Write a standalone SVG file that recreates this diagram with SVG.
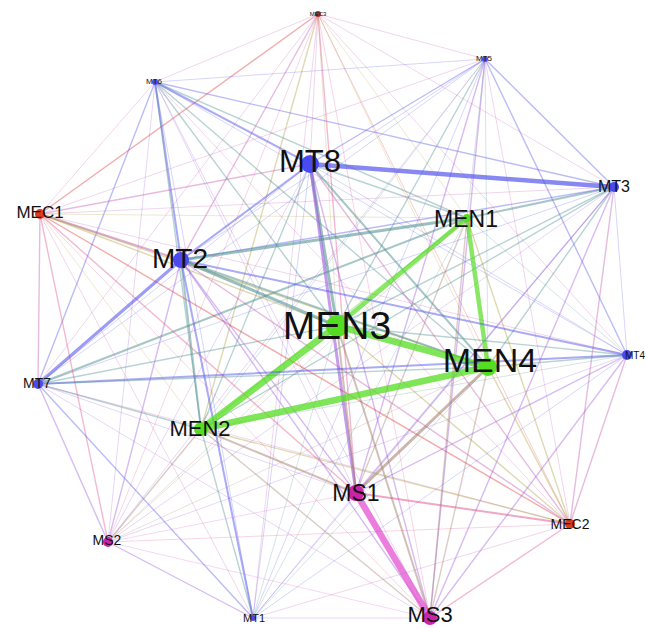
<svg xmlns="http://www.w3.org/2000/svg" width="646" height="629" viewBox="0 0 646 629">
<style>
#edges line{stroke-width:1;stroke-opacity:.24;stroke-linecap:round}
.tt{stroke:#5555ee}.nn{stroke:#55dd22}.ss{stroke:#e452d0}.cc{stroke:#e03030}
.tn{stroke:#4f9090}.ts{stroke:#9a55dd}.tc{stroke:#c055b0}.ns{stroke:#a58070}
.nc{stroke:#b0a040}.sc{stroke:#e0508a}
#edges line.a{stroke-width:1.4;stroke-opacity:.4}
#edges line.b{stroke-width:2;stroke-opacity:.5}
#edges line.c{stroke-width:3;stroke-opacity:.58}
#edges line.d{stroke-width:4.5;stroke-opacity:.7}
#edges line.e{stroke-width:6.5;stroke-opacity:.75}
text{font-family:"Liberation Sans",Arial,sans-serif;fill:#111;text-anchor:middle}
.t{fill:#4a4af0}.n{fill:#55dd22}.s{fill:#cc22aa}.r{fill:#e03a1a}
</style>
<rect width="646" height="629" fill="#fff"/>
<g id="edges">
<line class="tc" x1="318" y1="14" x2="155" y2="82"/>
<line class="tc" x1="318" y1="14" x2="485" y2="59"/>
<line class="tc" x1="318" y1="14" x2="310" y2="164"/>
<line class="tc" x1="318" y1="14" x2="614" y2="187"/>
<line class="nc" x1="318" y1="14" x2="467" y2="218"/>
<line class="cc a" x1="318" y1="14" x2="40" y2="214"/>
<line class="tc a" x1="318" y1="14" x2="181" y2="260"/>
<line class="nc" x1="318" y1="14" x2="337" y2="326"/>
<line class="tc" x1="318" y1="14" x2="627" y2="355"/>
<line class="tc" x1="318" y1="14" x2="38" y2="384"/>
<line class="nc" x1="318" y1="14" x2="488" y2="367"/>
<line class="nc a" x1="318" y1="14" x2="201" y2="429"/>
<line class="sc a" x1="318" y1="14" x2="356" y2="493"/>
<line class="cc" x1="318" y1="14" x2="570" y2="524"/>
<line class="sc" x1="318" y1="14" x2="108" y2="542"/>
<line class="tc" x1="318" y1="14" x2="253" y2="618"/>
<line class="sc" x1="318" y1="14" x2="430" y2="618"/>
<line class="tt" x1="155" y1="82" x2="485" y2="59"/>
<line class="tt b" x1="155" y1="82" x2="310" y2="164"/>
<line class="tt a" x1="155" y1="82" x2="614" y2="187"/>
<line class="tn a" x1="155" y1="82" x2="467" y2="218"/>
<line class="tc" x1="155" y1="82" x2="40" y2="214"/>
<line class="tt b" x1="155" y1="82" x2="181" y2="260"/>
<line class="tn a" x1="155" y1="82" x2="337" y2="326"/>
<line class="tt" x1="155" y1="82" x2="627" y2="355"/>
<line class="tt a" x1="155" y1="82" x2="38" y2="384"/>
<line class="tn a" x1="155" y1="82" x2="488" y2="367"/>
<line class="tn a" x1="155" y1="82" x2="201" y2="429"/>
<line class="ts" x1="155" y1="82" x2="356" y2="493"/>
<line class="tc" x1="155" y1="82" x2="570" y2="524"/>
<line class="ts" x1="155" y1="82" x2="108" y2="542"/>
<line class="tt" x1="155" y1="82" x2="253" y2="618"/>
<line class="ts" x1="155" y1="82" x2="430" y2="618"/>
<line class="tt a" x1="485" y1="59" x2="310" y2="164"/>
<line class="tt a" x1="485" y1="59" x2="614" y2="187"/>
<line class="tn" x1="485" y1="59" x2="467" y2="218"/>
<line class="tc" x1="485" y1="59" x2="40" y2="214"/>
<line class="tt" x1="485" y1="59" x2="181" y2="260"/>
<line class="tn a" x1="485" y1="59" x2="337" y2="326"/>
<line class="tt a" x1="485" y1="59" x2="627" y2="355"/>
<line class="tt" x1="485" y1="59" x2="38" y2="384"/>
<line class="tn" x1="485" y1="59" x2="488" y2="367"/>
<line class="tn" x1="485" y1="59" x2="201" y2="429"/>
<line class="ts a" x1="485" y1="59" x2="356" y2="493"/>
<line class="tc" x1="485" y1="59" x2="570" y2="524"/>
<line class="ts" x1="485" y1="59" x2="108" y2="542"/>
<line class="tt" x1="485" y1="59" x2="253" y2="618"/>
<line class="ts a" x1="485" y1="59" x2="430" y2="618"/>
<line class="tt d" x1="310" y1="164" x2="614" y2="187"/>
<line class="tn a" x1="310" y1="164" x2="467" y2="218"/>
<line class="tc a" x1="310" y1="164" x2="40" y2="214"/>
<line class="tt b" x1="310" y1="164" x2="181" y2="260"/>
<line class="tn c" x1="310" y1="164" x2="337" y2="326"/>
<line class="tt" x1="310" y1="164" x2="627" y2="355"/>
<line class="tt" x1="310" y1="164" x2="38" y2="384"/>
<line class="tn b" x1="310" y1="164" x2="488" y2="367"/>
<line class="tn a" x1="310" y1="164" x2="201" y2="429"/>
<line class="ts c" x1="310" y1="164" x2="356" y2="493"/>
<line class="tc a" x1="310" y1="164" x2="570" y2="524"/>
<line class="ts" x1="310" y1="164" x2="108" y2="542"/>
<line class="tt" x1="310" y1="164" x2="253" y2="618"/>
<line class="ts a" x1="310" y1="164" x2="430" y2="618"/>
<line class="tn b" x1="614" y1="187" x2="467" y2="218"/>
<line class="tc" x1="614" y1="187" x2="40" y2="214"/>
<line class="tt a" x1="614" y1="187" x2="181" y2="260"/>
<line class="tn a" x1="614" y1="187" x2="337" y2="326"/>
<line class="tt" x1="614" y1="187" x2="627" y2="355"/>
<line class="tt" x1="614" y1="187" x2="38" y2="384"/>
<line class="tn a" x1="614" y1="187" x2="488" y2="367"/>
<line class="tn a" x1="614" y1="187" x2="201" y2="429"/>
<line class="ts a" x1="614" y1="187" x2="356" y2="493"/>
<line class="tc a" x1="614" y1="187" x2="570" y2="524"/>
<line class="ts" x1="614" y1="187" x2="108" y2="542"/>
<line class="tt" x1="614" y1="187" x2="253" y2="618"/>
<line class="ts a" x1="614" y1="187" x2="430" y2="618"/>
<line class="nc" x1="467" y1="218" x2="40" y2="214"/>
<line class="tn c" x1="467" y1="218" x2="181" y2="260"/>
<line class="nn d" x1="467" y1="218" x2="337" y2="326"/>
<line class="tn" x1="467" y1="218" x2="627" y2="355"/>
<line class="tn b" x1="467" y1="218" x2="38" y2="384"/>
<line class="nn d" x1="467" y1="218" x2="488" y2="367"/>
<line class="nn a" x1="467" y1="218" x2="201" y2="429"/>
<line class="ns a" x1="467" y1="218" x2="356" y2="493"/>
<line class="nc a" x1="467" y1="218" x2="570" y2="524"/>
<line class="ns" x1="467" y1="218" x2="108" y2="542"/>
<line class="tn" x1="467" y1="218" x2="253" y2="618"/>
<line class="ns a" x1="467" y1="218" x2="430" y2="618"/>
<line class="tc b" x1="40" y1="214" x2="181" y2="260"/>
<line class="nc a" x1="40" y1="214" x2="337" y2="326"/>
<line class="tc" x1="40" y1="214" x2="627" y2="355"/>
<line class="tc a" x1="40" y1="214" x2="38" y2="384"/>
<line class="nc a" x1="40" y1="214" x2="488" y2="367"/>
<line class="nc" x1="40" y1="214" x2="201" y2="429"/>
<line class="sc a" x1="40" y1="214" x2="356" y2="493"/>
<line class="cc a" x1="40" y1="214" x2="570" y2="524"/>
<line class="sc a" x1="40" y1="214" x2="108" y2="542"/>
<line class="tc" x1="40" y1="214" x2="253" y2="618"/>
<line class="sc" x1="40" y1="214" x2="430" y2="618"/>
<line class="tn c" x1="181" y1="260" x2="337" y2="326"/>
<line class="tt b" x1="181" y1="260" x2="627" y2="355"/>
<line class="tt c" x1="181" y1="260" x2="38" y2="384"/>
<line class="tn b" x1="181" y1="260" x2="488" y2="367"/>
<line class="tn b" x1="181" y1="260" x2="201" y2="429"/>
<line class="ts a" x1="181" y1="260" x2="356" y2="493"/>
<line class="tc a" x1="181" y1="260" x2="570" y2="524"/>
<line class="ts a" x1="181" y1="260" x2="108" y2="542"/>
<line class="tt b" x1="181" y1="260" x2="253" y2="618"/>
<line class="ts a" x1="181" y1="260" x2="430" y2="618"/>
<line class="tn a" x1="337" y1="326" x2="627" y2="355"/>
<line class="tn a" x1="337" y1="326" x2="38" y2="384"/>
<line class="nn e" x1="337" y1="326" x2="488" y2="367"/>
<line class="nn e" x1="337" y1="326" x2="201" y2="429"/>
<line class="ns b" x1="337" y1="326" x2="356" y2="493"/>
<line class="nc a" x1="337" y1="326" x2="570" y2="524"/>
<line class="ns" x1="337" y1="326" x2="108" y2="542"/>
<line class="tn" x1="337" y1="326" x2="253" y2="618"/>
<line class="ns b" x1="337" y1="326" x2="430" y2="618"/>
<line class="tt b" x1="627" y1="355" x2="38" y2="384"/>
<line class="tn a" x1="627" y1="355" x2="488" y2="367"/>
<line class="tn" x1="627" y1="355" x2="201" y2="429"/>
<line class="ts a" x1="627" y1="355" x2="356" y2="493"/>
<line class="tc a" x1="627" y1="355" x2="570" y2="524"/>
<line class="ts" x1="627" y1="355" x2="108" y2="542"/>
<line class="tt" x1="627" y1="355" x2="253" y2="618"/>
<line class="ts a" x1="627" y1="355" x2="430" y2="618"/>
<line class="tn a" x1="38" y1="384" x2="488" y2="367"/>
<line class="tn a" x1="38" y1="384" x2="201" y2="429"/>
<line class="ts" x1="38" y1="384" x2="356" y2="493"/>
<line class="tc" x1="38" y1="384" x2="570" y2="524"/>
<line class="ts a" x1="38" y1="384" x2="108" y2="542"/>
<line class="tt a" x1="38" y1="384" x2="253" y2="618"/>
<line class="ts" x1="38" y1="384" x2="430" y2="618"/>
<line class="nn e" x1="488" y1="367" x2="201" y2="429"/>
<line class="ns c" x1="488" y1="367" x2="356" y2="493"/>
<line class="nc a" x1="488" y1="367" x2="570" y2="524"/>
<line class="ns" x1="488" y1="367" x2="108" y2="542"/>
<line class="tn" x1="488" y1="367" x2="253" y2="618"/>
<line class="ns a" x1="488" y1="367" x2="430" y2="618"/>
<line class="ns b" x1="201" y1="429" x2="356" y2="493"/>
<line class="nc a" x1="201" y1="429" x2="570" y2="524"/>
<line class="ns a" x1="201" y1="429" x2="108" y2="542"/>
<line class="tn a" x1="201" y1="429" x2="253" y2="618"/>
<line class="ns a" x1="201" y1="429" x2="430" y2="618"/>
<line class="sc b" x1="356" y1="493" x2="570" y2="524"/>
<line class="ss" x1="356" y1="493" x2="108" y2="542"/>
<line class="ts" x1="356" y1="493" x2="253" y2="618"/>
<line class="ss e" x1="356" y1="493" x2="430" y2="618"/>
<line class="sc" x1="570" y1="524" x2="108" y2="542"/>
<line class="tc" x1="570" y1="524" x2="253" y2="618"/>
<line class="sc a" x1="570" y1="524" x2="430" y2="618"/>
<line class="ts a" x1="108" y1="542" x2="253" y2="618"/>
<line class="ss" x1="108" y1="542" x2="430" y2="618"/>
<line class="ts" x1="253" y1="618" x2="430" y2="618"/>
</g>
<g id="node-MEC3"><circle cx="318" cy="14" r="3" fill="#a03830"/><text x="318" y="16" font-size="6">MEC3</text></g>
<g id="node-MT6"><circle class="t" cx="155" cy="82" r="3"/><text x="154" y="84" font-size="8">MT6</text></g>
<g id="node-MT5"><circle class="t" cx="485" cy="59" r="3"/><text x="484" y="61" font-size="8">MT5</text></g>
<g id="node-MT8"><circle class="t" cx="310" cy="164" r="9"/><text x="310" y="172" font-size="31">MT8</text></g>
<g id="node-MT3"><circle class="t" cx="614" cy="187" r="5"/><text x="614" y="192" font-size="16">MT3</text></g>
<g id="node-MEN1"><circle class="n" cx="467" cy="218" r="4"/><text x="466" y="227" font-size="23">MEN1</text></g>
<g id="node-MEC1"><circle class="r" cx="40" cy="214" r="5"/><text x="40" y="218" font-size="17">MEC1</text></g>
<g id="node-MT2"><circle class="t" cx="181" cy="260" r="8"/><text x="180" y="268" font-size="28">MT2</text></g>
<g id="node-MEN3"><circle class="n" cx="337" cy="326" r="11"/><text x="337" y="339" font-size="39">MEN3</text></g>
<g id="node-MT4"><circle class="t" cx="627" cy="355" r="5"/><text x="645" y="359" font-size="10" style="text-anchor:end">MT4</text></g>
<g id="node-MT7"><circle class="t" cx="38" cy="384" r="5"/><text x="37" y="388" font-size="14">MT7</text></g>
<g id="node-MEN4"><circle class="n" cx="488" cy="367" r="9"/><text x="490" y="372" font-size="34">MEN4</text></g>
<g id="node-MEN2"><circle class="n" cx="201" cy="429" r="7"/><text x="200" y="436" font-size="22">MEN2</text></g>
<g id="node-MS1"><circle class="s" cx="356" cy="493" r="8"/><text x="356" y="501" font-size="23">MS1</text></g>
<g id="node-MEC2"><circle class="r" cx="570" cy="524" r="5"/><text x="570" y="529" font-size="14">MEC2</text></g>
<g id="node-MS2"><circle class="s" cx="108" cy="542" r="5"/><text x="107" y="545" font-size="14">MS2</text></g>
<g id="node-MT1"><circle class="t" cx="253" cy="618" r="3"/><text x="254" y="622" font-size="11">MT1</text></g>
<g id="node-MS3"><circle class="s" cx="430" cy="618" r="7"/><text x="430" y="622" font-size="22">MS3</text></g>
</svg>
